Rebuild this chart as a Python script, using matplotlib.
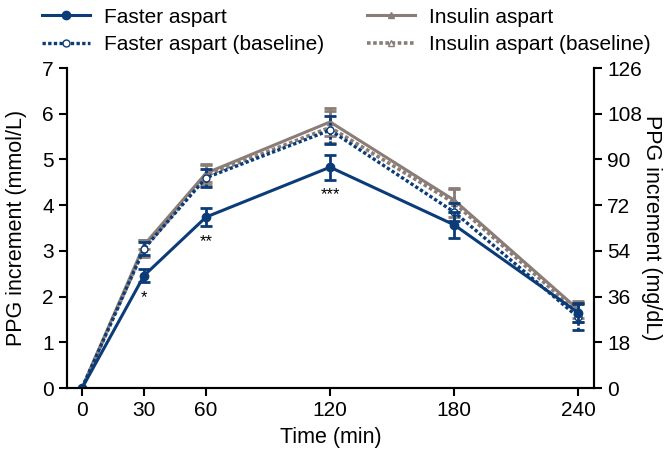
import numpy as np
import matplotlib
matplotlib.use("Agg")
import matplotlib.pyplot as plt
from matplotlib.lines import Line2D

plt.rcParams['font.family'] = ['Liberation Sans', 'DejaVu Sans']

time = [0, 30, 60, 120, 180, 240]

faster = [0, 2.46, 3.74, 4.83, 3.57, 1.65]
faster_err = [0, 0.15, 0.2, 0.27, 0.28, 0.2]
faster_base = [0, 3.05, 4.6, 5.64, 3.85, 1.55]
faster_base_err = [0, 0.15, 0.2, 0.3, 0.2, 0.28]
insulin = [0, 3.13, 4.7, 5.82, 4.11, 1.72]
insulin_err = [0, 0.1, 0.2, 0.3, 0.26, 0.18]
insulin_base = [0, 3.05, 4.65, 5.7, 4.05, 1.65]
insulin_base_err = [0, 0.18, 0.22, 0.35, 0.3, 0.2]

stars = {30: '*', 60: '**', 120: '***'}

navy = '#0b3c78'
grey = '#8a7d77'
dots = (0, (1, 0.7))

fig = plt.figure(figsize=(6.69, 4.5), dpi=100)
ax = fig.add_axes([67/669, 1-388/450, (594-67)/669, 320/450])

kw = dict(capsize=4, elinewidth=2, capthick=2)
ax.errorbar(time, insulin, yerr=insulin_err, color=grey, lw=2.2, marker='^', ms=5,
            zorder=2, **kw)
e2 = ax.errorbar(time, insulin_base, yerr=insulin_base_err, color=grey, lw=2.6, ls=dots,
                 marker='^', ms=5, mfc='white', zorder=3, **kw)
e3 = ax.errorbar(time, faster_base, yerr=faster_base_err, color=navy, lw=2.4, ls=dots,
                 marker='o', ms=5, mfc='white', zorder=4, **kw)
ax.errorbar(time, faster, yerr=faster_err, color=navy, lw=2.2, marker='o', ms=6,
            zorder=5, **kw)
for e in (e2, e3):
    for c in e[2]:
        c.set_linestyle(dots)

for t, s in stars.items():
    i = time.index(t)
    ax.text(t, faster[i] - faster_err[i] - 0.33, s, ha='center', va='center', fontsize=12)

ax.set_xlim(-7.3, 247.7)
ax.set_ylim(0, 7)
ax.set_xticks(time)
ax.set_yticks(range(0, 8))
ax.set_xlabel('Time (min)', fontsize=15.5, labelpad=5)
ax.set_ylabel('PPG increment (mmol/L)', fontsize=15.5, labelpad=11)
ax.spines['top'].set_visible(False)
for sp in ax.spines.values():
    sp.set_linewidth(1.5)
ax.tick_params(labelsize=15, width=1.5, length=6)

ax2 = ax.twinx()
ax2.set_ylim(0, 126)
ax2.set_yticks(range(0, 127, 18))
ax2.set_ylabel('PPG increment (mg/dL)', fontsize=15.5, rotation=270, labelpad=14)
ax2.spines['top'].set_visible(False)
for sp in ax2.spines.values():
    sp.set_linewidth(1.5)
ax2.tick_params(labelsize=15, width=1.5, length=6)

handles = [
    Line2D([], [], color=navy, lw=2.2, marker='o', ms=6),
    Line2D([], [], color=navy, lw=2.4, ls=dots, marker='o', ms=5, mfc='white'),
    Line2D([], [], color=grey, lw=2.2, marker='^', ms=5),
    Line2D([], [], color=grey, lw=2.6, ls=dots, marker='^', ms=5, mfc='white'),
]
labels = ['Faster aspart', 'Faster aspart (baseline)', 'Insulin aspart', 'Insulin aspart (baseline)']
fig.legend(handles, labels, loc='upper left', bbox_to_anchor=(0.035, 1.025), ncol=2,
           frameon=False, fontsize=15, handlelength=2.3, handletextpad=0.65,
           columnspacing=2.1, labelspacing=0.4)

fig.savefig('out.png', dpi=100)
